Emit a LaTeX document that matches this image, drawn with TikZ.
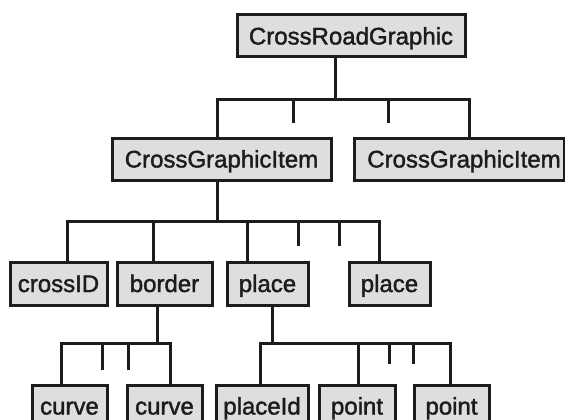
\documentclass[tikz,border=0pt]{standalone}
\usepackage{fontspec}
\setmainfont{Liberation Sans}
\newfontfamily\labelfont{Liberation Sans}[RawFeature={embolden=1.6}]
\definecolor{boxfill}{HTML}{DEDEDE}
\definecolor{ink}{HTML}{1C1C1C}
\begin{document}
\begin{tikzpicture}[x=1pt,y=-1pt,
  box/.style={draw=ink, fill=boxfill, line width=3pt, rectangle,
    inner sep=0pt, minimum height=42pt,
    font=\labelfont\fontsize{24}{24}\selectfont, text=ink,
    text height=17pt, text depth=0pt},
  link/.style={draw=ink, line width=3pt, line join=miter, line cap=rect}]
\clip (0,0) rectangle (565,420);
\fill[white] (0,0) rectangle (565,420);

% boxes
\node[box, minimum width=228pt] (root)  at (351,36)    {CrossRoadGraphic};
\node[box, minimum width=219pt] (cgi1)  at (221.5,159) {CrossGraphicItem};
\node[box, minimum width=210pt] (cgi2)  at (459,159)   {\hspace*{10pt}CrossGraphicItem};

\node[box, minimum width=97pt, minimum height=43pt] (cid)    at (58.5,283.5)  {crossID};
\node[box, minimum width=95pt, minimum height=43pt] (border) at (164.5,283.5) {border};
\node[box, minimum width=81pt, minimum height=43pt] (place1) at (267.5,283.5) {place};
\node[box, minimum width=81pt, minimum height=43pt] (place2) at (389.5,283.5) {place};

\node[box, minimum width=75pt] (curve1)  at (69.5,406)  {curve};
\node[box, minimum width=75pt] (curve2)  at (164.5,406) {curve};
\node[box, minimum width=92pt] (placeid) at (262,406)   {placeId};
\node[box, minimum width=76pt] (point1)  at (357,406)   {point};
\node[box, minimum width=75pt] (point2)  at (451.5,406) {point};

% junctions and open stubs
\coordinate (j0) at (335,99);
\coordinate (s0a) at (293,121);
\coordinate (s0b) at (388,121);
\coordinate (j1) at (217,221);
\coordinate (s1a) at (298,244);
\coordinate (s1b) at (339,244);
\coordinate (j2) at (157,343);
\coordinate (s2a) at (102,368);
\coordinate (s2b) at (128,368);
\coordinate (j3) at (272,343);
\coordinate (s3a) at (389,362);
\coordinate (s3b) at (413,362);

% root -> items
\draw[link] (root.south -| j0) -- (j0);
\draw[link] (cgi1.north -| 217,0) -- (217,99) -- (469,99) -- (cgi2.north -| 469,0);
\draw[link] (s0a |- j0) -- (s0a);
\draw[link] (s0b |- j0) -- (s0b);

% item -> fields
\draw[link] (cgi1.south -| j1) -- (j1);
\draw[link] (cid.north -| 67,0) -- (67,221) -- (379,221) -- (place2.north -| 379,0);
\draw[link] (border.north -| 153,0) -- (153,221);
\draw[link] (place1.north -| 247,0) -- (247,221);
\draw[link] (s1a |- j1) -- (s1a);
\draw[link] (s1b |- j1) -- (s1b);

% border -> curves
\draw[link] (border.south -| j2) -- (j2);
\draw[link] (curve1.north -| 61,0) -- (61,343) -- (170,343) -- (curve2.north -| 170,0);
\draw[link] (s2a |- j2) -- (s2a);
\draw[link] (s2b |- j2) -- (s2b);

% place -> id and points
\draw[link] (place1.south -| j3) -- (j3);
\draw[link] (placeid.north -| 260,0) -- (260,343) -- (450,343) -- (point2.north -| 450,0);
\draw[link] (point1.north -| 358,0) -- (358,343);
\draw[link] (s3a |- j3) -- (s3a);
\draw[link] (s3b |- j3) -- (s3b);
\end{tikzpicture}
\end{document}
